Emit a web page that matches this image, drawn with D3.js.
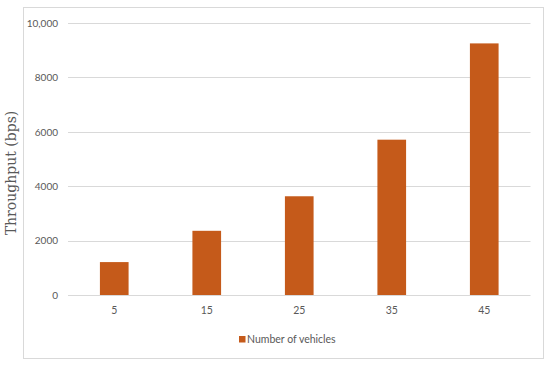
<!DOCTYPE html>
<html><head><meta charset="utf-8">
<script src="https://cdn.jsdelivr.net/npm/d3@7"></script>
<style>body{margin:0;background:#fff}svg{display:block}</style>
</head><body>
<svg id="c" width="550" height="369"></svg>
<script>
const categories = ["5","15","25","35","45"];
const values = [1210, 2360, 3630, 5710, 9250];
const yTicks = [0, 2000, 4000, 6000, 8000, 10000];
const yTickLabels = ["0","2000","4000","6000","8000","10,000"];
const seriesName = "Number of vehicles";
const yTitle = "Throughput (bps)";

(function(){
const svg = d3.select("#c");
const pLeft = 68, pRight = 530.5, pTop = 23, pBottom = 295;
const txt = "#595959", grid = "#d9d9d9", barColor = "#C55A1A";
const font = "Lato, 'Open Sans', sans-serif";

// outer border
svg.append("rect").attr("x",23.5).attr("y",7.5).attr("width",520).attr("height",351)
  .attr("fill","#fff").attr("stroke",grid).attr("stroke-width",1);

const x = d3.scaleBand().domain(categories).range([pLeft,pRight]).paddingInner(0.69).paddingOuter(0.345);
const y = d3.scaleLinear().domain([0,10000]).range([pBottom,pTop]);

// gridlines
svg.append("g").selectAll("line").data(yTicks.filter(d=>d>0)).join("line")
  .attr("x1",pLeft).attr("x2",pRight).attr("y1",d=>Math.round(y(d))+0.5).attr("y2",d=>Math.round(y(d))+0.5)
  .attr("stroke",grid).attr("stroke-width",1);

// y axis labels
const yAxis = d3.axisLeft(y).tickValues(yTicks).tickSize(0).tickPadding(0)
  .tickFormat((d,i)=>yTickLabels[i]);
const gy = svg.append("g").attr("transform",`translate(58,0)`).call(yAxis);
gy.select(".domain").remove();
gy.selectAll("text").attr("fill",txt).style("font-family",font).style("font-size","10px");

// bars
svg.append("g").selectAll("rect").data(values).join("rect")
  .attr("x",(d,i)=>x(categories[i])).attr("width",x.bandwidth())
  .attr("y",d=>y(d)).attr("height",d=>pBottom-y(d)).attr("fill",barColor);

// x axis
const xAxis = d3.axisBottom(x).tickSize(0).tickPadding(12);
const gx = svg.append("g").attr("transform",`translate(0,${pBottom})`).call(xAxis);
gx.select(".domain").attr("stroke",grid).attr("d",`M${pLeft},0.5H${pRight}`);
gx.selectAll("text").attr("fill",txt).style("font-family",font).style("font-size","10.5px");

// y title with white background
const tg = svg.append("g").attr("transform","translate(11,173) rotate(-90)");
tg.append("rect").attr("x",-96).attr("y",-10).attr("width",192).attr("height",20).attr("fill","#fff");
tg.append("text").attr("text-anchor","middle").attr("dy","0.35em")
  .attr("fill",txt).style("font-family","'DejaVu Serif', serif").style("font-size","14px").text(yTitle);

// legend
const lg = svg.append("g").attr("transform","translate(239,336)");
lg.append("rect").attr("width",6.5).attr("height",6.5).attr("fill",barColor);
lg.append("text").attr("x",8).attr("y",3.5).attr("dy","0.35em").attr("fill",txt)
  .style("font-family",font).style("font-size","10.5px").text(seriesName);
})();
</script>
</body></html>
